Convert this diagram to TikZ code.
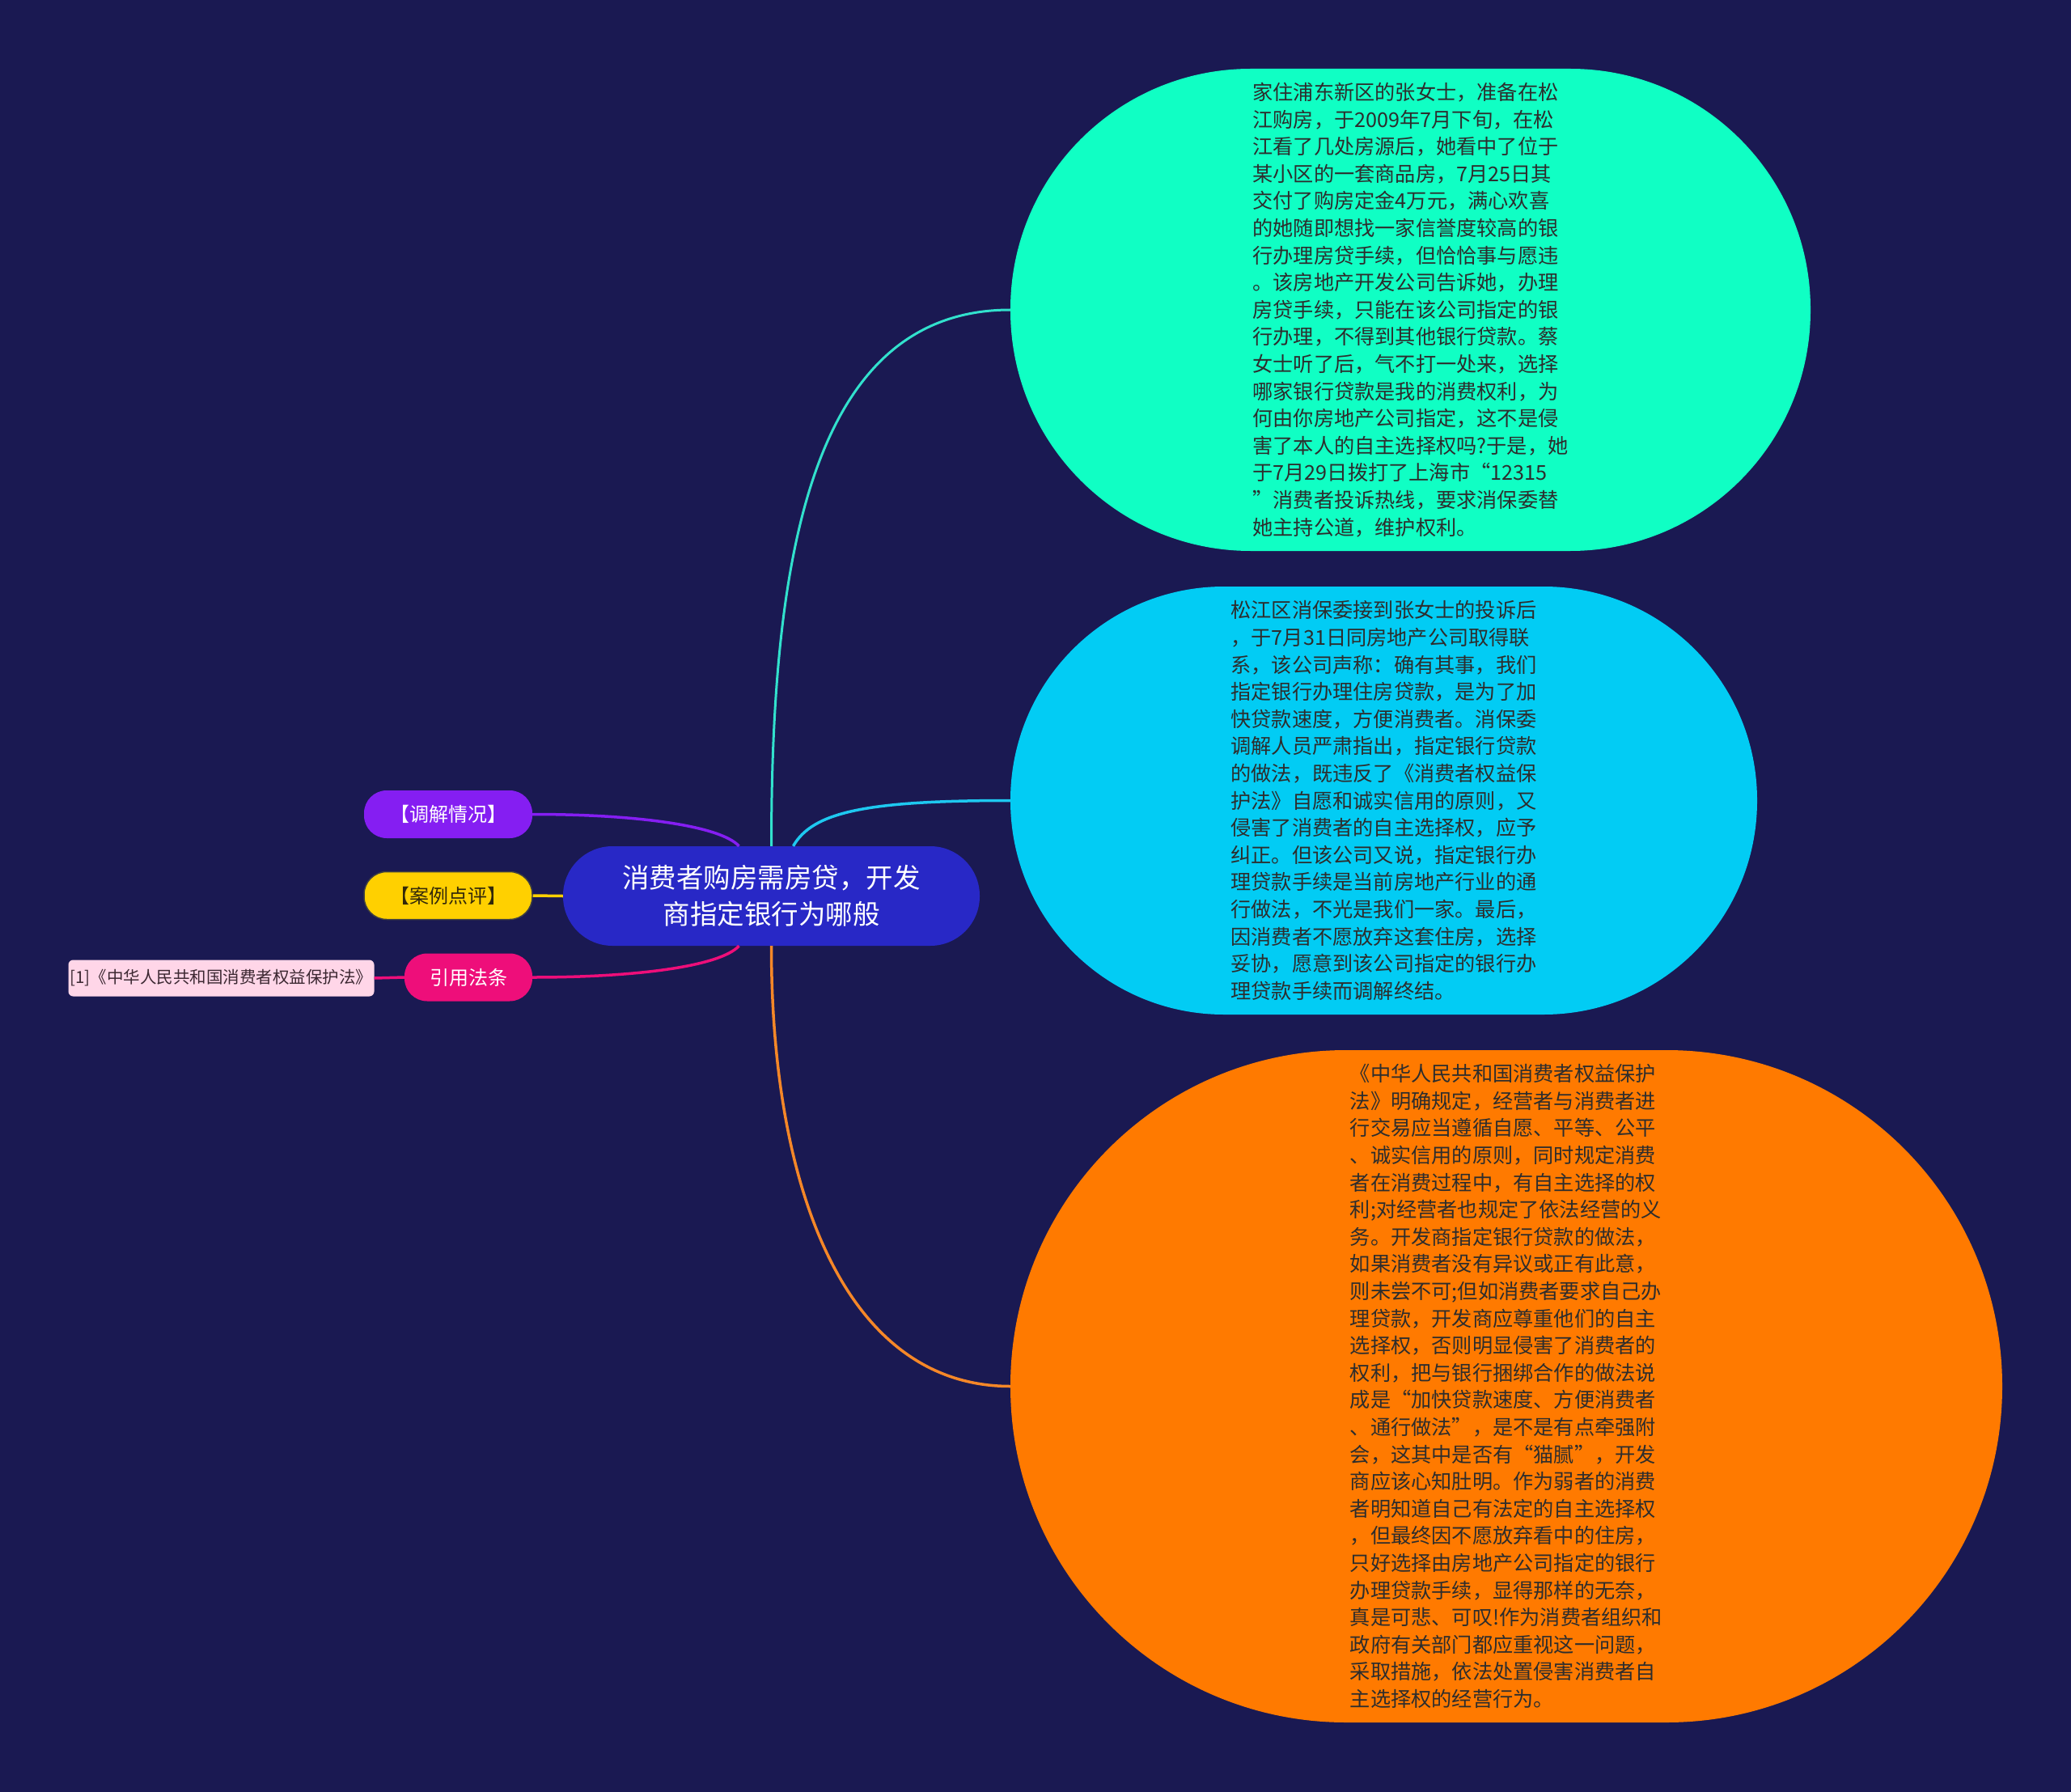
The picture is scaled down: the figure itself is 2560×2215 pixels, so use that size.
\documentclass[tikz,border=0pt]{standalone}
\usepackage{fontspec}
\setmainfont{Noto Sans CJK SC}
\usepackage{xcolor}
\definecolor{bgnavy}{RGB}{26,25,82}
\definecolor{topicblue}{RGB}{40,40,198}
\definecolor{mediatepurple}{RGB}{133,30,242}
\definecolor{reviewyellow}{RGB}{255,208,0}
\definecolor{reviewtext}{RGB}{50,40,10}
\definecolor{lawpink}{RGB}{238,14,122}
\definecolor{refpink}{RGB}{255,214,232}
\definecolor{reftext}{RGB}{60,40,50}
\definecolor{bubblegreen}{RGB}{16,255,196}
\definecolor{bubbleblue}{RGB}{2,204,244}
\definecolor{bubbleorange}{RGB}{255,122,0}
\definecolor{bodytext}{RGB}{45,45,45}
\definecolor{linkgreen}{RGB}{50,225,205}
\definecolor{linkblue}{RGB}{30,200,240}
\definecolor{linkorange}{RGB}{245,135,40}

\begin{document}
\begin{tikzpicture}[x=1pt,y=-1pt,
  topic/.style={fill=topicblue,text=white,rounded corners=61pt,minimum width=515pt,minimum height=123pt,
    inner sep=0pt,align=center,font=\fontsize{33.5}{45}\selectfont},
  tag/.style={rounded corners=28pt,minimum width=208pt,minimum height=59pt,inner sep=0pt,
    font=\fontsize{24}{28}\selectfont},
  bubble/.style={inner sep=0pt,align=left,text=bodytext,font=\fontsize{25.2}{33.6}\selectfont},
  link/.style={line width=3.5pt}]
% ---- canvas 2560 x 2215, one unit = one pixel, y downwards
\useasboundingbox (0,0) rectangle (2560,2215);
\fill[bgnavy] (0,0) rectangle (2560,2215);
% ---- centre topic
\node[topic] (topic) at (953.5,1107.5) {消费者购房需房贷，开发\\商指定银行为哪般};
% ---- left tags
\node[tag,fill=mediatepurple,text=white] (mediate) at (554,1006.5) {【调解情况】};
\node[tag,fill=reviewyellow,text=reviewtext,draw=black!75,line width=1.5pt] (review) at (554,1107) {【案例点评】};
\node[tag,fill=lawpink,text=white,minimum width=158pt] (law) at (579,1208) {引用法条};
\node[fill=refpink,text=reftext,rounded corners=6pt,minimum width=378pt,minimum height=45pt,inner sep=0pt,
  font=\fontsize{20.5}{24}\selectfont] (lawref) at (273.5,1209) {[1]《中华人民共和国消费者权益保护法》};
% ---- right bubbles
\node[bubble,fill=bubblegreen,rounded corners=297pt,minimum width=989pt,minimum height=596pt] (case) at (1743.5,383) {%
家住浦东新区的张女士，准备在松\\
江购房，于2009年7月下旬，在松\\
江看了几处房源后，她看中了位于\\
某小区的一套商品房，7月25日其\\
交付了购房定金4万元，满心欢喜\\
的她随即想找一家信誉度较高的银\\
行办理房贷手续，但恰恰事与愿违\\
。该房地产开发公司告诉她，办理\\
房贷手续，只能在该公司指定的银\\
行办理，不得到其他银行贷款。蔡\\
女士听了后，气不打一处来，选择\\
哪家银行贷款是我的消费权利，为\\
何由你房地产公司指定，这不是侵\\
害了本人的自主选择权吗?于是，她\\
于7月29日拨打了上海市“12315\\
”消费者投诉热线，要求消保委替\\
她主持公道，维护权利。};
\node[bubble,fill=bubbleblue,rounded corners=264pt,minimum width=923pt,minimum height=529pt] (mediation) at (1710.5,989.5) {%
松江区消保委接到张女士的投诉后\\
，于7月31日同房地产公司取得联\\
系，该公司声称：确有其事，我们\\
指定银行办理住房贷款，是为了加\\
快贷款速度，方便消费者。消保委\\
调解人员严肃指出，指定银行贷款\\
的做法，既违反了《消费者权益保\\
护法》自愿和诚实信用的原则，又\\
侵害了消费者的自主选择权，应予\\
纠正。但该公司又说，指定银行办\\
理贷款手续是当前房地产行业的通\\
行做法，不光是我们一家。最后，\\
因消费者不愿放弃这套住房，选择\\
妥协，愿意到该公司指定的银行办\\
理贷款手续而调解终结。};
\node[bubble,fill=bubbleorange,rounded corners=415pt,minimum width=1226pt,minimum height=831pt] (comment) at (1862,1713.5) {%
《中华人民共和国消费者权益保护\\
法》明确规定，经营者与消费者进\\
行交易应当遵循自愿、平等、公平\\
、诚实信用的原则，同时规定消费\\
者在消费过程中，有自主选择的权\\
利;对经营者也规定了依法经营的义\\
务。开发商指定银行贷款的做法，\\
如果消费者没有异议或正有此意，\\
则未尝不可;但如消费者要求自己办\\
理贷款，开发商应尊重他们的自主\\
选择权，否则明显侵害了消费者的\\
权利，把与银行捆绑合作的做法说\\
成是“加快贷款速度、方便消费者\\
、通行做法”，是不是有点牵强附\\
会，这其中是否有“猫腻”，开发\\
商应该心知肚明。作为弱者的消费\\
者明知道自己有法定的自主选择权\\
，但最终因不愿放弃看中的住房，\\
只好选择由房地产公司指定的银行\\
办理贷款手续，显得那样的无奈，\\
真是可悲、可叹!作为消费者组织和\\
政府有关部门都应重视这一问题，\\
采取措施，依法处置侵害消费者自\\
主选择权的经营行为。};
% ---- connectors, right side
\draw[link,linkgreen,line width=3pt] (topic.north) .. controls +(0,-348) and +(-249,0) .. (case.west);
\draw[link,linkblue] ([xshift=27pt]topic.north) .. controls +(24,-42) and +(-179,0) .. (mediation.west);
\draw[link,linkorange] (topic.south) .. controls +(0,311) and +(-199,0) .. (comment.west);
% ---- connectors, left side
\draw[link,mediatepurple] (mediate.east) .. controls +(130,0) and +(-23,-25) .. ([xshift=-40pt]topic.north);
\draw[link,reviewyellow] (review.east) -- (topic.west);
\draw[link,lawpink] (law.east) .. controls +(130,0) and +(-23,25) .. ([xshift=-40pt]topic.south);
\draw[link,lawpink] (lawref.east) -- (law.west);
\end{tikzpicture}
\end{document}
